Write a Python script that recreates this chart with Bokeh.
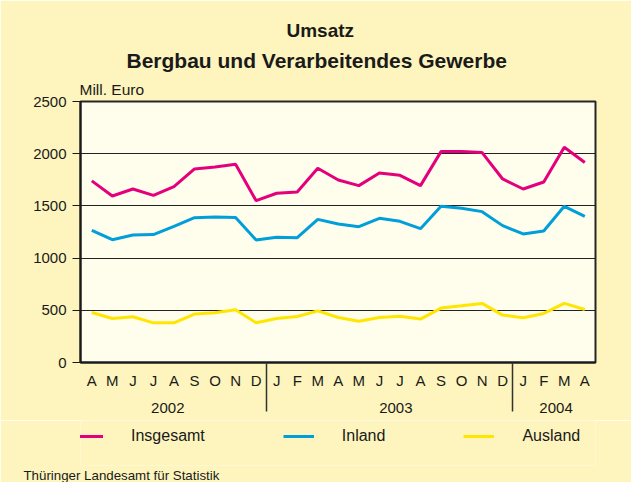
from bokeh.plotting import figure
from bokeh.layouts import column
from bokeh.models import Range1d, FixedTicker, LinearAxis, Legend, LegendItem, Grid, Title
from bokeh.embed import file_html
from bokeh.resources import INLINE

# ---- data ----
month_labels = ["A", "M", "J", "J", "A", "S", "O", "N", "D",
                "J", "F", "M", "A", "M", "J", "J", "A", "S", "O", "N", "D",
                "J", "F", "M", "A"]
years = ["2002", "2003", "2004"]
insgesamt = [1740, 1595, 1662, 1601, 1685, 1854, 1873, 1899, 1550,
             1621, 1633, 1860, 1748, 1694, 1815, 1793, 1694, 2020, 2020, 2011, 1758,
             1662, 1729, 2062, 1915]
inland = [1266, 1176, 1221, 1225, 1304, 1387, 1394, 1390, 1173,
          1199, 1195, 1371, 1327, 1301, 1381, 1352, 1282, 1496, 1477, 1445, 1311,
          1231, 1259, 1496, 1400]
ausland = [479, 422, 438, 380, 380, 464, 476, 505, 380,
           422, 441, 495, 431, 396, 431, 444, 416, 521, 543, 566, 454,
           428, 470, 566, 508]
series_names = ["Insgesamt", "Inland", "Ausland"]
y_ticks = [0, 500, 1000, 1500, 2000, 2500]

x = list(range(len(month_labels)))
series = [insgesamt, inland, ausland]

FONT = "Liberation Sans"
TXT = "#1a1a1a"
OUTER = "#fdf5bd"
INNER = "#fffdec"
colors = ["#e4007c", "#009fda", "#ffe600"]

# ---------------- main chart ----------------
p = figure(width=631, height=420,
           x_range=Range1d(-0.55, 24.52), y_range=Range1d(0, 2500),
           output_backend="svg", toolbar_location=None, title_location=None,
           x_axis_location=None, y_axis_location=None,
           min_border_left=80, min_border_right=36,
           min_border_top=101, min_border_bottom=58,
           border_fill_color=OUTER, background_fill_color=INNER,
           outline_line_color="#262626", outline_line_width=2)
p.xgrid.visible = False
p.ygrid.visible = False

yaxis = LinearAxis(ticker=FixedTicker(ticks=y_ticks),
                   axis_line_color=TXT, axis_line_width=2,
                   major_tick_line_color=TXT, major_tick_out=8, major_tick_in=0,
                   minor_tick_line_color=None,
                   major_label_standoff=6,
                   major_label_text_font=FONT, major_label_text_font_size="15px",
                   major_label_text_color=TXT)
p.add_layout(yaxis, "left")

grid = Grid(dimension=1, ticker=FixedTicker(ticks=y_ticks[1:-1]),
            grid_line_color="#222222", grid_line_width=1.2)
p.add_layout(grid)

# month axis, with year separators drawn as long minor ticks
n_first = month_labels.index("D") + 0.5
seps = [n_first, n_first + 12]
maxis = LinearAxis(ticker=FixedTicker(ticks=x, minor_ticks=seps),
                   major_label_overrides={i: m for i, m in enumerate(month_labels)},
                   axis_line_color=TXT, axis_line_width=2,
                   major_tick_line_color=None, major_tick_out=0, major_tick_in=0,
                   minor_tick_line_color="#333333", minor_tick_line_width=1.5,
                   minor_tick_out=49, minor_tick_in=0,
                   major_label_standoff=-40,
                   major_label_text_font=FONT, major_label_text_font_size="15px",
                   major_label_text_color=TXT)
p.add_layout(maxis, "below")

year_pos = [3.7, 14.8, 22.6]
yraxis = LinearAxis(ticker=FixedTicker(ticks=year_pos),
                    major_label_overrides={year_pos[i]: years[i] for i in range(3)},
                    axis_line_color=None, major_tick_line_color=None,
                    minor_tick_line_color=None, major_tick_out=0, major_tick_in=0,
                    major_label_standoff=11,
                    major_label_text_font=FONT, major_label_text_font_size="15px",
                    major_label_text_color=TXT)
p.add_layout(yraxis, "below")

for vals, c in zip(series, colors):
    p.line(x, vals, line_color=c, line_width=3)

t_unit = Title(text="Mill. Euro", align="left", offset=-1, standoff=7,
               text_font=FONT, text_font_size="15.5px", text_font_style="normal",
               text_color=TXT)
t2 = Title(text="Bergbau und Verarbeitendes Gewerbe", align="left", offset=46,
           standoff=7, text_font=FONT, text_font_size="21px", text_font_style="bold",
           text_color=TXT)
t1 = Title(text="Umsatz", align="left", offset=206, standoff=5,
           text_font=FONT, text_font_size="19px", text_font_style="bold",
           text_color=TXT)
p.add_layout(t_unit, "above")
p.add_layout(t2, "above")
p.add_layout(t1, "above")

# ---------------- legend + source strip ----------------
p2 = figure(width=631, height=62, x_range=Range1d(0, 631), y_range=Range1d(0, 62),
            output_backend="svg", toolbar_location=None, title_location=None,
            x_axis_location=None, y_axis_location=None,
            min_border=0, min_border_left=0, min_border_right=0,
            min_border_top=0, min_border_bottom=0,
            border_fill_color=OUTER, background_fill_color=OUTER,
            outline_line_color=None)
p2.xgrid.visible = False
p2.ygrid.visible = False

# legend-only renderers (their data lie outside this strip's visible range)
leg_renderers = [p2.line(x, vals, line_color=c, line_width=3) for vals, c in zip(series, colors)]
legend = Legend(items=[LegendItem(label=n, renderers=[r]) for n, r in zip(series_names, leg_renderers)],
                orientation="horizontal", location=(-8, 19),
                spacing=78, glyph_width=31, glyph_height=20, label_height=20,
                label_standoff=28, padding=0, margin=0,
                border_line_color=None, background_fill_alpha=0,
                label_text_font=FONT, label_text_font_size="16px",
                label_text_color=TXT)
p2.add_layout(legend)

footer = Title(text="Thüringer Landesamt für Statistik", align="left", offset=-57,
               standoff=0, text_font=FONT, text_font_size="13.3px",
               text_font_style="normal", text_color=TXT)
p2.add_layout(footer, "below")

layout = column(p, p2, spacing=0)
open("out.html", "w").write(file_html(layout, INLINE))
